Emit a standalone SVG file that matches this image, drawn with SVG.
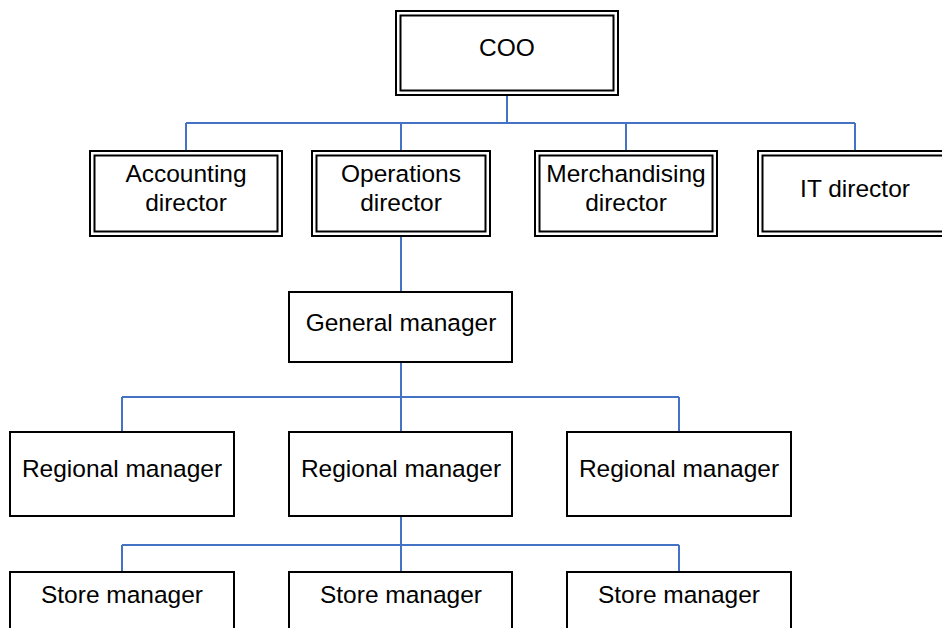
<svg xmlns="http://www.w3.org/2000/svg" width="942" height="628" viewBox="0 0 942 628">
  <style>
    .box { fill: #ffffff; stroke: #000000; stroke-width: 2; }
    .inner { fill: none; stroke: #000000; stroke-width: 2; }
    .label { font-family: "Liberation Sans", Arial, sans-serif; font-size: 24.5px; fill: #000000; text-anchor: middle; }
    .link { fill: none; stroke: #4472C4; stroke-width: 2; }
  </style>
  <rect width="942" height="628" fill="#ffffff"/>

  <!-- reporting lines -->
  <g id="connectors">
    <path class="link" d="M507 96 V123 M186 123 H855 M186 123 V151 M401 123 V151 M626 123 V151 M855 123 V151"/>
    <path class="link" d="M401 236 V292"/>
    <path class="link" d="M401 362 V432 M122 397 H679 M122 397 V432 M679 397 V432"/>
    <path class="link" d="M401 516 V572 M122 545 H679 M122 545 V572 M679 545 V572"/>
  </g>

  <!-- executive level: double-bordered boxes -->
  <g id="coo">
    <rect class="box" x="396" y="11" width="222" height="84"/>
    <rect class="inner" x="400.5" y="15.5" width="213" height="75"/>
    <text class="label" x="507" y="56">COO</text>
  </g>

  <g id="accounting-director">
    <rect class="box" x="90" y="151" width="192" height="85"/>
    <rect class="inner" x="94.5" y="155.5" width="183" height="76"/>
    <text class="label" x="186" y="182">Accounting</text>
    <text class="label" x="186" y="211">director</text>
  </g>

  <g id="operations-director">
    <rect class="box" x="312" y="151" width="178" height="85"/>
    <rect class="inner" x="316.5" y="155.5" width="169" height="76"/>
    <text class="label" x="401" y="182">Operations</text>
    <text class="label" x="401" y="211">director</text>
  </g>

  <g id="merchandising-director">
    <rect class="box" x="535" y="151" width="182" height="85"/>
    <rect class="inner" x="539.5" y="155.5" width="173" height="76"/>
    <text class="label" x="626" y="182">Merchandising</text>
    <text class="label" x="626" y="211">director</text>
  </g>

  <g id="it-director">
    <rect class="box" x="758" y="151" width="196" height="85"/>
    <rect class="inner" x="762.5" y="155.5" width="187" height="76"/>
    <text class="label" x="855" y="197">IT director</text>
  </g>

  <!-- management levels: single-bordered boxes -->
  <g id="general-manager">
    <rect class="box" x="289" y="292" width="223" height="70"/>
    <text class="label" x="401" y="331">General manager</text>
  </g>

  <g id="regional-manager-1">
    <rect class="box" x="10" y="432" width="224" height="84"/>
    <text class="label" x="122" y="477">Regional manager</text>
  </g>

  <g id="regional-manager-2">
    <rect class="box" x="289" y="432" width="223" height="84"/>
    <text class="label" x="401" y="477">Regional manager</text>
  </g>

  <g id="regional-manager-3">
    <rect class="box" x="567" y="432" width="224" height="84"/>
    <text class="label" x="679" y="477">Regional manager</text>
  </g>

  <g id="store-manager-1">
    <rect class="box" x="10" y="572" width="224" height="70"/>
    <text class="label" x="122" y="603">Store manager</text>
  </g>

  <g id="store-manager-2">
    <rect class="box" x="289" y="572" width="223" height="70"/>
    <text class="label" x="401" y="603">Store manager</text>
  </g>

  <g id="store-manager-3">
    <rect class="box" x="567" y="572" width="224" height="70"/>
    <text class="label" x="679" y="603">Store manager</text>
  </g>
</svg>
